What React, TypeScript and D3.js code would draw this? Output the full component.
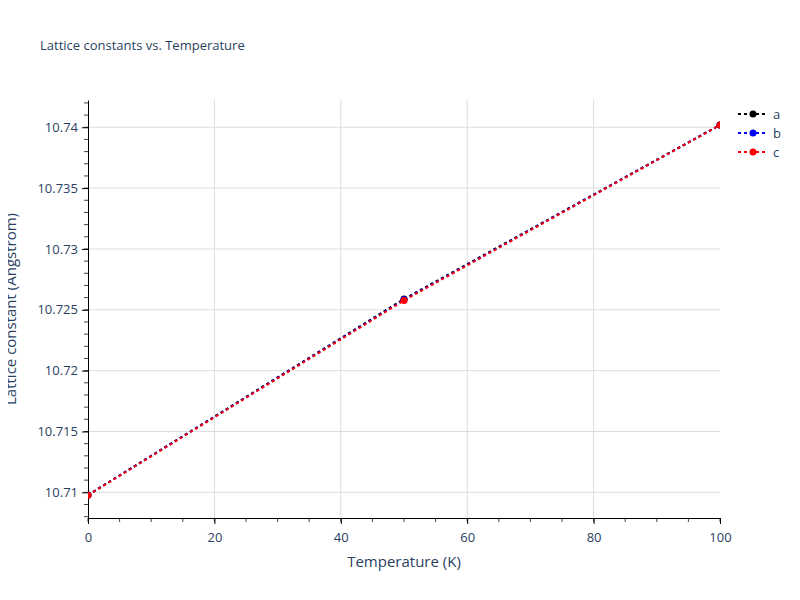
import React, { useRef, useEffect } from 'react';
import * as d3 from 'd3';

// Temperatures (K)
const temperatures = [0, 50, 100];
// Lattice constants (Angstrom) per axis
const seriesA = [10.70978, 10.72589, 10.74019];
const seriesB = [10.70978, 10.72583, 10.74019];
const seriesC = [10.70976, 10.72577, 10.74018];

const seriesNames = ['a', 'b', 'c'];
const seriesColors = ['#000000', '#0000ff', '#ff0000'];

const xTicks = [0, 20, 40, 60, 80, 100];
const yTicks = [10.71, 10.715, 10.72, 10.725, 10.73, 10.735, 10.74];

const App: React.FC = () => {
  const chartRef = useRef<HTMLDivElement>(null);

  useEffect(() => {
    if (!chartRef.current) return;
    d3.select(chartRef.current).select('svg').remove();

    const W = 800;
    const H = 600;
    const margin = { top: 100, right: 80, bottom: 82, left: 88 };
    const width = W - margin.left - margin.right;
    const height = H - margin.top - margin.bottom;
    const textColor = '#2a3f5f';
    const font = '"Open Sans", Arial, sans-serif';

    const svg = d3.select(chartRef.current)
      .append('svg')
      .attr('width', W)
      .attr('height', H)
      .style('display', 'block')
      .style('font-family', font);

    svg.append('rect').attr('width', W).attr('height', H).attr('fill', '#fff');

    const x = d3.scaleLinear().domain([0, 100]).range([0, width]);
    const y = d3.scaleLinear().domain([10.70789, 10.74224]).range([height, 0]);

    const g = svg.append('g').attr('transform', `translate(${margin.left},${margin.top})`);

    // Clip for markers/lines
    svg.append('defs').append('clipPath').attr('id', 'plot-clip')
      .append('rect').attr('width', width).attr('height', height);

    // Grid
    g.append('g')
      .selectAll('line')
      .data(yTicks)
      .enter()
      .append('line')
      .attr('x1', 0)
      .attr('x2', width)
      .attr('y1', d => y(d))
      .attr('y2', d => y(d))
      .attr('stroke', '#dddddd')
      .attr('stroke-width', 1);
    g.append('g')
      .selectAll('line')
      .data(xTicks.filter(d => d > 0 && d < 100))
      .enter()
      .append('line')
      .attr('x1', d => x(d))
      .attr('x2', d => x(d))
      .attr('y1', 0)
      .attr('y2', height)
      .attr('stroke', '#dddddd')
      .attr('stroke-width', 1);

    // Minor ticks
    const xMinor = d3.range(0, 101, 5);
    g.append('g')
      .selectAll('line')
      .data(xMinor)
      .enter()
      .append('line')
      .attr('x1', d => x(d))
      .attr('x2', d => x(d))
      .attr('y1', height)
      .attr('y2', height + 4)
      .attr('stroke', '#444')
      .attr('stroke-width', 1);
    const yMinor = d3.range(10708, 10743).map(v => v / 1000);
    g.append('g')
      .selectAll('line')
      .data(yMinor)
      .enter()
      .append('line')
      .attr('x1', -4)
      .attr('x2', 0)
      .attr('y1', d => y(d))
      .attr('y2', d => y(d))
      .attr('stroke', '#444')
      .attr('stroke-width', 1);

    // Axes
    const xAxis = g.append('g')
      .attr('transform', `translate(0,${height})`)
      .call(d3.axisBottom(x).tickValues(xTicks).tickSize(6).tickSizeOuter(0).tickFormat(d3.format('d')));
    xAxis.select('.domain').attr('stroke', '#000');
    xAxis.selectAll('line').attr('stroke', '#000');
    xAxis.selectAll('text')
      .attr('y', 15)
      .style('font-size', '13px')
      .style('font-family', font)
      .attr('fill', textColor);

    const yAxis = g.append('g')
      .call(d3.axisLeft(y).tickValues(yTicks).tickSize(6).tickSizeOuter(0).tickFormat(d => String(+(+d).toFixed(3))));
    yAxis.select('.domain').attr('stroke', '#000');
    yAxis.selectAll('line').attr('stroke', '#000');
    yAxis.selectAll('text')
      .attr('x', -10)
      .style('font-size', '13px')
      .style('font-family', font)
      .attr('fill', textColor);

    // Series
    const allSeries = [seriesA, seriesB, seriesC];
    const line = d3.line<number>()
      .x((_, i) => x(temperatures[i]))
      .y(d => y(d));

    const plot = g.append('g').attr('clip-path', 'url(#plot-clip)');
    allSeries.forEach((vals, si) => {
      plot.append('path')
        .datum(vals)
        .attr('d', line)
        .attr('fill', 'none')
        .attr('stroke', seriesColors[si])
        .attr('stroke-width', 2)
        .attr('stroke-dasharray', '3,3');
      plot.selectAll(`.m${si}`)
        .data(vals)
        .enter()
        .append('circle')
        .attr('class', `m${si}`)
        .attr('cx', (_, i) => x(temperatures[i]))
        .attr('cy', d => y(d))
        .attr('r', 3.5)
        .attr('fill', seriesColors[si]);
    });

    // Title
    svg.append('text')
      .attr('x', 40)
      .attr('y', 50)
      .style('font-size', '13px')
      .attr('fill', textColor)
      .text('Lattice constants vs. Temperature');

    // Axis titles
    svg.append('text')
      .attr('x', margin.left + width / 2)
      .attr('y', 567)
      .attr('text-anchor', 'middle')
      .style('font-size', '15px')
      .attr('fill', textColor)
      .text('Temperature (K)');
    svg.append('text')
      .attr('transform', `translate(16,${margin.top + height / 2}) rotate(-90)`)
      .attr('text-anchor', 'middle')
      .style('font-size', '15px')
      .attr('fill', textColor)
      .text('Lattice constant (Angstrom)');

    // Legend
    const legend = svg.append('g').attr('transform', 'translate(738,114)');
    seriesNames.forEach((name, i) => {
      const item = legend.append('g').attr('transform', `translate(0,${i * 19})`);
      item.append('line')
        .attr('x1', 0)
        .attr('x2', 30)
        .attr('y1', 0)
        .attr('y2', 0)
        .attr('stroke', seriesColors[i])
        .attr('stroke-width', 2)
        .attr('stroke-dasharray', '3,3');
      item.append('circle')
        .attr('cx', 15)
        .attr('cy', 0)
        .attr('r', 3.5)
        .attr('fill', seriesColors[i]);
      item.append('text')
        .attr('x', 35)
        .attr('y', 4.5)
        .style('font-size', '13px')
        .attr('fill', textColor)
        .text(name);
    });
  }, []);

  return <div ref={chartRef} style={{ margin: -8 }} />;
};

export default App;
